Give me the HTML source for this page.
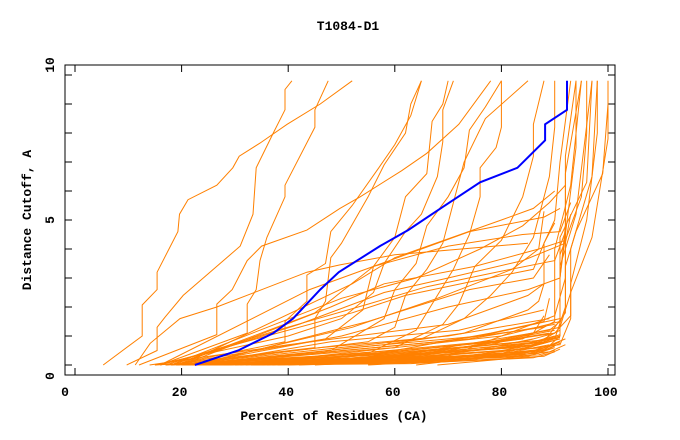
<!DOCTYPE html>
<html><head><meta charset="utf-8"><style>
body{margin:0;background:#fff;}
svg{display:block;font-family:"Liberation Mono",monospace;font-weight:bold;}
</style></head><body>
<svg id="chart" width="680" height="440" viewBox="0 0 680 440">
<text x="348" y="30" text-anchor="middle" font-size="13">T1084-D1</text>
<text x="334" y="420" text-anchor="middle" font-size="13">Percent of Residues (CA)</text>
<text x="0" y="0" transform="translate(31,220) rotate(-90)" text-anchor="middle" font-size="13">Distance Cutoff, A</text>
<g id="ticks"></g>
<g id="lines" fill="none"></g>
<rect x="65" y="65" width="550" height="310" fill="none" stroke="#000" stroke-width="1"/>
</svg>
<script>
const xTicks=[0,20,40,60,80,100];
const yTicks=[0,5,10];
const yMinor=[1,2,3,4,6,7,8,9];
const blueLine=[[22.5,0],[30.6,0.5],[37.2,1.1],[40.9,1.6],[46,2.6],[49.5,3.2],[57.2,4.1],[62.5,4.65],[69,5.45],[76,6.3],[83,6.8],[88.2,7.75],[88.2,8.3],[92.3,8.8],[92.3,9.8]];
const orangeLines=[
[[5.3,0],[12.6,1],[12.6,2.07],[15.4,2.6],[15.4,3.2],[19.3,4.6],[19.6,5.2],[21.2,5.7],[26.6,6.2],[29.6,6.8],[30.8,7.2],[34.7,7.65],[39.8,8.3],[46,9.0],[52,9.8]],
[[9.7,0],[15.4,0.5],[15.4,1.3],[16.9,1.65],[20.3,2.4],[31,4.1],[33.4,5.2],[34,6.8],[37.2,8.0],[39.4,8.8],[39.4,9.5],[40.7,9.8]],
[[11.3,0],[14.1,0.75],[19.7,1.6],[26.6,2.0],[43.5,3.2],[49.7,3.45],[60,3.8],[85,4.2]],
[[12,0],[26.6,1.05],[26.6,2.1],[29.5,2.6],[32.3,3.6],[35,4.1],[43.5,4.65],[49.7,5.4],[53.5,5.8],[61.3,6.7],[66,7.3],[72,8.3],[78,9.8]],
[[16,0],[32.3,1.1],[32.3,2.1],[34,2.6],[34.7,3.6],[36,4.4],[39.4,5.8],[39.4,6.2],[45,8.2],[45,8.8],[47.5,9.8]],
[[18,0],[39.4,0.8],[39.4,1.5],[43.5,2.2],[43.5,3.1],[47,3.5],[48,4.6],[52,5.5],[57,6.8],[60,7.6],[63,8.6],[65,9.8]],
[[17,0],[45,0.6],[45,1.6],[47,2.2],[48,3.7],[50,4.2],[55,5.8],[58,6.9],[62,8.0],[63,9.0],[65,9.8]],
[[15,0],[40,1.0],[50,1.6],[56,2.5],[58,3.5],[62,4.6],[65,5.2],[68,6.5],[69,7.7],[69,8.8],[71,9.8]],
[[18,0],[47,0.9],[54,1.9],[56,3.4],[60,4.4],[62,5.8],[66,6.6],[67,8.4],[69,9.0],[70,9.8]],
[[20,0],[48,0.5],[58,1.6],[60,2.6],[64,3.5],[66,4.8],[70,5.8],[73,6.8],[74,8.1],[77,8.9],[80,9.8]],
[[19,0],[55,0.8],[60,1.3],[62,2.4],[66,3.3],[69,4.2],[71,5.6],[73,7.0],[77,8.5],[85,9.8]],
[[20,0],[55,0.4],[64,1.2],[68,2.4],[71,3.3],[74,4.5],[76,5.8],[76,6.8],[79,7.5],[80,8.2],[80,9.8]],
[[21,0],[60,0.6],[69,1.4],[72,2.1],[75,3.4],[80,4.3],[84,5.8],[86,7.2],[86,8.3],[88,9.8]],
[[19,0],[65,0.9],[73,1.6],[78,2.4],[82,3.2],[86,4.4],[89,6.5],[90,8.2],[90,9.8]],
[[14,0],[40,0.7],[70,1.4],[85,2.4],[88,2.8],[88,4.2],[90,5.0],[91,7.0],[93,9.8]],
[[15,0],[45,0.3],[80,1.0],[91,1.5],[91,3.0],[92,4.5],[94,7.5],[94,9.8]],
[[17,0],[50,0.3],[84,0.9],[90,1.5],[90,4.0],[93,6.2],[95,9.8]],
[[18,0],[55,0.2],[87,0.8],[91,1.0],[91,3.4],[94,5.2],[97,9.8]],
[[19,0],[60,0.3],[89,1.2],[91,1.5],[91,3.8],[95,5.8],[96,8.0],[96,9.8]],
[[20,0],[58,0.2],[90,1.1],[93,1.7],[93,2.8],[96,5.0],[98,8.0],[98,9.8]],
[[21,0],[65,0.3],[91,1.3],[93,2.5],[97,4.4],[100,7.8],[100,9.8]],
[[20,0],[62,0.2],[88,0.8],[92,1.8],[92,3.4],[94,4.6],[99,6.6],[100,9.0]],
[[22,0],[65,0.1],[85,0.6],[91,1.0],[91,4.4],[96,6.3],[97,9.8]],
[[23,0],[62,0.4],[90,0.9],[92,2.0],[92,6.6],[95,9.8]],
[[24,0],[70,0.3],[90,1.7],[92,3.0],[92,7.2],[94,9.8]],
[[25,0],[68,0.2],[91,0.7],[93,1.6],[93,4.0],[97,6.5],[98,9.8]],
[[16,0],[36,1.0],[52,1.8],[62,2.4],[75,2.9],[86,3.3],[88,4.2],[90,4.9]],
[[17,0],[38,1.2],[55,2.1],[66,2.7],[79,3.2],[90,3.6],[92,4.6]],
[[18,0],[42,1.4],[58,2.5],[70,3.0],[84,3.6],[92,4.2],[93,5.2]],
[[19,0],[45,1.8],[56,3.4],[70,4.1],[84,4.5],[91,4.6],[93,5.6]],
[[20,0],[48,2.0],[58,2.8],[75,3.4],[87,4.0],[92,4.3]],
[[21,0],[50,1.0],[70,2.0],[85,2.6],[91,3.0],[92,4.8]],
[[22,0],[52,1.3],[68,2.3],[82,3.3],[87,4.0],[88,5.3]],
[[23,0],[55,1.5],[74,2.6],[86,3.0],[89,3.8]],
[[18,0],[50,2.3],[64,3.0],[76,4.0],[84,4.8],[89,5.6],[92,6.2]],
[[16,0],[44,2.6],[62,3.8],[74,4.6],[88,5.1],[91,5.4]],
[[20,0],[52,2.8],[60,3.7],[80,5.0],[86,5.4],[90,6.0]],
[[21,0],[58,0.7],[73,1.1],[85,1.9],[87,2.2],[88,2.8]],
[[22,0],[60,0.5],[78,1.1],[88,1.5],[89,2.3]],
[[23,0],[52,0.3],[78,0.7],[86,1.1],[88,1.7]],
[[20,0],[48,0.15],[75,0.5],[86,0.9]],
[[24,0],[55,0.1],[80,0.4],[89,0.8]],
[[22,0],[50,0.2],[72,0.6],[84,0.9]],
[[25,0],[58,0.25],[82,0.6],[90,1.0]],
[[26,0],[60,0.15],[84,0.4],[90,0.7]],
[[27,0],[62,0.3],[86,0.7],[91,1.2]],
[[21,0],[45,0.4],[68,0.8],[88,1.3]],
[[23,0],[50,0.5],[74,0.9],[90,1.4]],
[[19,0],[46,0.6],[70,1.0],[89,1.6]],
[[24,0],[54,0.35],[79,0.8],[89,1.1]],
[[26,0],[56,0.45],[80,0.85],[90,1.2]],
[[28,0],[60,0.2],[84,0.55],[91,0.9]],
[[25,0],[52,0.6],[76,1.0],[91,1.6]],
[[22,0],[48,0.8],[72,1.2],[88,1.9]],
[[68,0],[80,0.2],[88,0.5],[91,1.0]],
[[55,0],[75,0.2],[87,0.5]],
[[64,0],[78,0.3],[89,0.7]],
[[30,0],[60,0.1],[85,0.3],[90,0.6]],
[[32,0],[62,0.2],[86,0.45],[91,0.8]],
[[34,0],[65,0.15],[87,0.35],[90,0.5]],
[[36,0],[66,0.25],[88,0.5],[91,0.75]],
[[38,0],[68,0.1],[86,0.25],[90,0.45]],
[[40,0],[70,0.2],[87,0.4],[90,0.65]],
[[28,0],[56,0.12],[82,0.35],[89,0.55]],
[[29,0],[58,0.3],[83,0.6],[90,0.85]],
[[31,0],[61,0.35],[85,0.65],[91,0.95]],
[[33,0],[63,0.05],[88,0.3],[91,0.55]],
[[35,0],[64,0.4],[86,0.75],[91,1.05]],
[[37,0],[67,0.3],[88,0.6],[92,0.9]],
[[42,0],[70,0.15],[89,0.45],[92,0.7]],
[[45,0],[72,0.25],[88,0.55],[91,0.8]],
[[27,0],[54,0.18],[80,0.5],[88,0.75]],
[[33,0],[60,0.42],[84,0.8],[90,1.1]]
];
const X=v=>75+5.33*v, Y=v=>365-29*v;
const NS='http://www.w3.org/2000/svg';
const tg=document.getElementById('ticks'), lg=document.getElementById('lines');
function mk(tag,attrs,parent){const e=document.createElementNS(NS,tag);for(const k in attrs)e.setAttribute(k,attrs[k]);parent.appendChild(e);return e;}
xTicks.forEach(t=>{
 const l=mk('line',{x1:X(t),x2:X(t),y1:375,y2:368,stroke:'#000'},tg);
 
 
 const l2=mk('line',{x1:X(t),x2:X(t),y1:65,y2:72,stroke:'#000'},tg);
 
 
 const tx=mk('text',{x:t==0?65:X(t)-2,y:396,'text-anchor':'middle','font-size':'13'},tg);
 tx.textContent=t;
 
 
});
yMinor.concat(yTicks).forEach(t=>{
 const l=mk('line',{x1:65,x2:72,y1:Y(t),y2:Y(t),stroke:'#000'},tg);
 
 
 const l2=mk('line',{x1:615,x2:608,y1:Y(t),y2:Y(t),stroke:'#000'},tg);
 
 
});
yTicks.forEach(t=>{
 const yy=t==0?376:(t==5?220:65);
 const tx=mk('text',{x:0,y:0,transform:`translate(${54},${yy}) rotate(-90)`,'text-anchor':'middle','font-size':'13'},tg);
 tx.textContent=t;
 
 
});
orangeLines.forEach(pts=>{
 const p=mk('polyline',{points:pts.map(q=>X(q[0]).toFixed(1)+','+Y(q[1]).toFixed(1)).join(' '),stroke:'#ff8000','stroke-width':'1'},lg);
 
 
});
const b=mk('polyline',{points:blueLine.map(q=>X(q[0]).toFixed(1)+','+Y(q[1]).toFixed(1)).join(' '),stroke:'#0000ff','stroke-width':'2'},lg);


</script>
</body></html>
